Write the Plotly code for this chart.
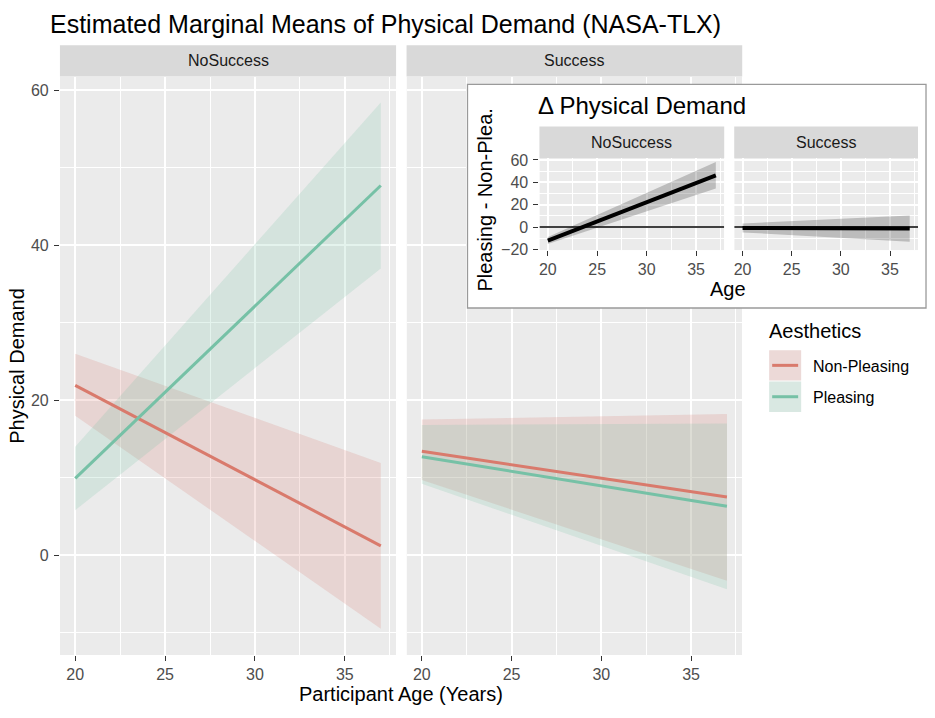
import plotly.graph_objects as go

# Estimated marginal means
ages = [20, 37]

# NoSuccess panel
nonpl_ns_mean = [21.9, 1.2]
nonpl_ns_lo = [18.0, -9.5]
nonpl_ns_hi = [26.0, 11.9]
pl_ns_mean = [9.9, 47.7]
pl_ns_lo = [5.8, 37.0]
pl_ns_hi = [14.0, 58.4]

# Success panel
nonpl_s_mean = [13.4, 7.5]
nonpl_s_lo = [9.7, -3.3]
nonpl_s_hi = [17.5, 18.2]
pl_s_mean = [12.7, 6.3]
pl_s_lo = [9.2, -4.4]
pl_s_hi = [16.8, 17.0]

# Inset: Pleasing - Non-Pleasing
delta_ns_mean = [-12.2, 46.3]
delta_ns_lo = [-15.3, 34.5]
delta_ns_hi = [-9.0, 58.2]
delta_s_mean = [-0.8, -1.3]
delta_s_lo = [-4.8, -13.1]
delta_s_hi = [3.2, 10.3]

facets = ["NoSuccess", "Success"]
groups = ["Non-Pleasing", "Pleasing"]
age_ticks = [20, 25, 30, 35]

W, H = 935, 718
FONT = "Liberation Sans, Arial, Helvetica, sans-serif"
RED = "#D97A6C"
GREEN = "#76C1A6"
RED_FILL = "rgba(217,122,108,0.2)"
GREEN_FILL = "rgba(118,193,166,0.2)"
PANEL = "#EBEBEB"
STRIP = "#D9D9D9"


def fx(px):
    return px / W


def fy(py):
    return 1 - py / H


fig = go.Figure()


def band(x, lo, hi, color, xa, ya):
    fig.add_trace(go.Scatter(
        x=x + x[::-1], y=lo + hi[::-1], fill="toself", fillcolor=color,
        mode="lines", line=dict(width=0), hoverinfo="skip", showlegend=False,
        xaxis=xa, yaxis=ya))


def line(x, y, color, width, xa, ya):
    fig.add_trace(go.Scatter(
        x=x, y=y, mode="lines", line=dict(color=color, width=width),
        showlegend=False, xaxis=xa, yaxis=ya))


# main panels
band(ages, nonpl_ns_lo, nonpl_ns_hi, RED_FILL, "x", "y")
band(ages, pl_ns_lo, pl_ns_hi, GREEN_FILL, "x", "y")
line(ages, nonpl_ns_mean, RED, 3, "x", "y")
line(ages, pl_ns_mean, GREEN, 3, "x", "y")

band(ages, nonpl_s_lo, nonpl_s_hi, RED_FILL, "x2", "y")
band(ages, pl_s_lo, pl_s_hi, GREEN_FILL, "x2", "y")
line(ages, nonpl_s_mean, RED, 3, "x2", "y")
line(ages, pl_s_mean, GREEN, 3, "x2", "y")

# inset panels
band(ages, delta_ns_lo, delta_ns_hi, "rgba(0,0,0,0.2)", "x4", "y4")
line(ages, delta_ns_mean, "black", 4, "x4", "y4")
band(ages, delta_s_lo, delta_s_hi, "rgba(0,0,0,0.2)", "x5", "y4")
line(ages, delta_s_mean, "black", 4, "x5", "y4")

xr = [19.15, 37.85]
yr_main = [-12.9, 61.75]
yr_ins = [-20.7, 61.8]


def xaxis(domain, anchor, lab_size=16):
    return dict(domain=domain, anchor=anchor, range=xr, tickmode="array",
                tickvals=age_ticks, ticks="outside", ticklen=5, tickwidth=1.1,
                tickcolor="#333333", tickfont=dict(size=lab_size, color="#4D4D4D"),
                showgrid=True, gridcolor="white", gridwidth=1.5, zeroline=False,
                showline=False, fixedrange=True,
                minor=dict(tickmode="linear", tick0=17.5, dtick=5, showgrid=True,
                           gridcolor="white", gridwidth=0.75, ticks=""))


def yaxis(domain, anchor, rng):
    return dict(domain=domain, anchor=anchor, range=rng, tickmode="linear",
                tick0=0, dtick=20, ticks="outside", ticklen=5, tickwidth=1.1,
                tickcolor="#333333", tickfont=dict(size=16, color="#4D4D4D"),
                showgrid=True, gridcolor="white", gridwidth=1.5, zeroline=False,
                showline=False, fixedrange=True, ticklabelstandoff=2,
                minor=dict(tickmode="linear", tick0=10, dtick=20, showgrid=True,
                           gridcolor="white", gridwidth=0.75, ticks=""))


main_y_dom = [fy(662), fy(72)]
ins_y_dom = [fy(249), fy(155)]
box_l, box_r, box_t, box_b = 467, 926, 80, 308

fig.update_layout(
    width=W, height=H, margin=dict(l=0, r=0, t=0, b=0),
    paper_bgcolor="white", plot_bgcolor="rgba(0,0,0,0)",
    font=dict(family=FONT, color="black"),
    showlegend=False,
    xaxis=xaxis([fx(59), fx(395.5)], "y"),
    xaxis2=xaxis([fx(406), fx(742)], "y"),
    yaxis=yaxis(main_y_dom, "x", yr_main),
    # dummy subplot that carries the white inset box
    xaxis3=dict(domain=[fx(box_l - 2), fx(box_r + 2)], anchor="y3", showgrid=False,
                zeroline=False, showticklabels=False, ticks="",
                range=[-2 / (box_r - box_l), 1 + 2 / (box_r - box_l)], fixedrange=True),
    yaxis3=dict(domain=[fy(box_b + 2), fy(box_t - 2)], anchor="x3", showgrid=False,
                zeroline=False, showticklabels=False, ticks="",
                range=[-2 / (box_b - box_t), 1 + 2 / (box_b - box_t)], fixedrange=True),
    xaxis4=xaxis([fx(539), fx(724)], "y4"),
    xaxis5=xaxis([fx(734), fx(918)], "y4"),
    yaxis4=yaxis(ins_y_dom, "x4", yr_ins),
)

# invisible trace so the dummy subplot exists
fig.add_trace(go.Scatter(x=[0.5], y=[0.5], mode="markers", marker=dict(opacity=0),
                         hoverinfo="skip", showlegend=False, xaxis="x3", yaxis="y3"))

shapes = []
# panel backgrounds (below gridlines)
for xa, ya, yr in [("x", "y", yr_main), ("x2", "y", yr_main),
                   ("x4", "y4", yr_ins), ("x5", "y4", yr_ins)]:
    shapes.append(dict(type="rect", xref=xa, yref=ya, x0=xr[0], x1=xr[1],
                       y0=yr[0], y1=yr[1], fillcolor=PANEL, line=dict(width=0),
                       layer="below"))
# inset white box
shapes.append(dict(type="rect", xref="x3", yref="y3", x0=0, x1=1, y0=0, y1=1,
                   fillcolor="white", line=dict(color="#9A9A9A", width=1.3),
                   layer="below"))
# zero line in inset panels
for xa in ["x4", "x5"]:
    shapes.append(dict(type="line", xref=xa, yref="y4", x0=xr[0], x1=xr[1],
                       y0=0, y1=0, line=dict(color="black", width=1.3), layer="above"))


def label(text, x, y, size, xanchor="center", angle=0, color="black"):
    return dict(text=text, x=fx(x), y=fy(y), xref="paper", yref="paper",
                xanchor=xanchor, yanchor="middle", showarrow=False, textangle=angle,
                borderpad=0, font=dict(size=size, color=color))


annotations = []
# strips
for (l, r), t, b, lab in [((59, 395.5), 40, 72, facets[0]), ((406, 742), 40, 72, facets[1]),
                          ((539, 724), 123, 155, facets[0]), ((734, 918), 123, 155, facets[1])]:
    shapes.append(dict(type="rect", xref="paper", yref="paper", x0=fx(l), x1=fx(r),
                       y0=fy(b), y1=fy(t), fillcolor=STRIP, line=dict(width=0),
                       layer="above"))
    annotations.append(label(lab, (l + r) / 2, (t + b) / 2, 16, color="#1A1A1A"))

# legend drawn by hand
annotations.append(label("Aesthetics", 768, 331, 20, xanchor="left"))
for i, (lab, col, fill) in enumerate(zip(groups, [RED, GREEN], [RED_FILL, GREEN_FILL])):
    t = 351 + i * 32
    b = t + 31
    for fc in ["#F2F2F2", fill]:
        shapes.append(dict(type="rect", xref="paper", yref="paper", x0=fx(769), x1=fx(801),
                           y0=fy(b), y1=fy(t), fillcolor=fc, line=dict(width=0),
                           layer="above"))
    shapes.append(dict(type="line", xref="paper", yref="paper", x0=fx(772), x1=fx(798),
                       y0=fy((t + b) / 2), y1=fy((t + b) / 2),
                       line=dict(color=col, width=3), layer="above"))
    annotations.append(label(lab, 812, (t + b) / 2 + 1, 16, xanchor="left"))

# titles
annotations += [
    label("Estimated Marginal Means of Physical Demand (NASA-TLX)", 48, 18, 25, xanchor="left"),
    label("Physical Demand", 16, 367, 20, angle=-90),
    label("Participant Age (Years)", 400, 702, 20),
    label("Δ Physical Demand", 537, 101, 24, xanchor="left"),
    label("Pleasing - Non-Plea.", 485, 198, 20, angle=-90),
    label("Age", 728, 289, 20),
]

fig.update_layout(shapes=shapes, annotations=annotations)

fig.write_html("out.html", config={"displayModeBar": False},
               post_script="document.body.style.margin='0px';"
                           "document.body.style.overflow='hidden';")
